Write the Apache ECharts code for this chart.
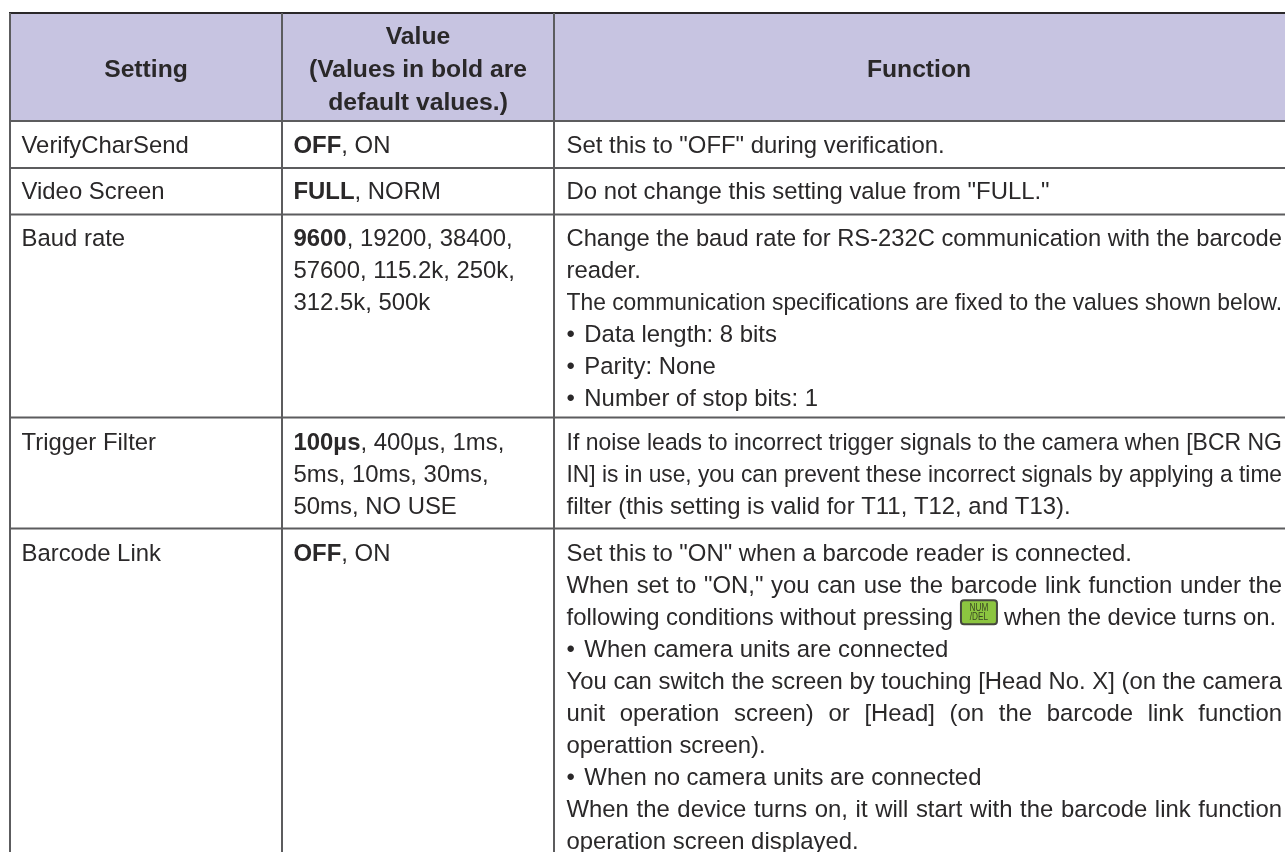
<!DOCTYPE html>
<html><head><meta charset="utf-8"><style>html,body{margin:0;padding:0;background:#fff}#c{width:1285px;height:852px}</style>
<script src="https://cdn.jsdelivr.net/npm/echarts@6/dist/echarts.min.js"></script></head>
<body><div id="c"></div>
<script>
const headers = ['Setting', ['Value', '(Values in bold are', 'default values.)'], 'Function'];
const settings = ['VerifyCharSend', 'Video Screen', 'Baud rate', 'Trigger Filter', 'Barcode Link'];
const valueBold = ['OFF', 'FULL', '9600', '100µs', 'OFF'];
const valueLines = [
  [', ON'],
  [', NORM'],
  [', 19200, 38400,', '57600, 115.2k, 250k,', '312.5k, 500k'],
  [', 400µs, 1ms,', '5ms, 10ms, 30ms,', '50ms, NO USE'],
  [', ON']
];
const functionLines = [
  ['Set this to "OFF" during verification.'],
  ['Do not change this setting value from "FULL."'],
  ['Change the baud rate for RS-232C communication with the barcode', 'reader.',
   'The communication specifications are fixed to the values shown below.',
   '• Data length: 8 bits', '• Parity: None', '• Number of stop bits: 1'],
  ['If noise leads to incorrect trigger signals to the camera when [BCR NG', 'IN] is in use, you can prevent these incorrect signals by applying a time', 'filter (this setting is valid for T11, T12, and T13).'],
  ['Set this to "ON" when a barcode reader is connected.',
   'When set to "ON," you can use the barcode link function under the',
   ['following conditions without pressing', 'when the device turns on.'],
   '• When camera units are connected',
   'You can switch the screen by touching [Head No. X] (on the camera',
   'unit operation screen) or [Head] (on the barcode link function',
   'operattion screen).',
   '• When no camera units are connected',
   'When the device turns on, it will start with the barcode link function',
   'operation screen displayed.']
];
const justified = [[], [], [0, 2], [0, 1], [1, 4, 5, 8]];
const keyCap = ['NUM', '/DEL'];

const FONT = '"Liberation Sans", Arial, sans-serif';
const SIZE = 23.9, HSIZE = 24.7, INK = '#2a2829', LINE = '#5c5c5e', HEAD = '#c7c4e1';
const colX = [10, 282, 554, 1285], rowY = [13, 121, 168, 214.5, 417.5, 528.5];
const pad = [11.5, 11.5, 12.5];
const firstLine = [146, 192.5, 239, 443, 554], PITCH = 32.1, RIGHT = 1282;
const BULLET_GAP = 9.5;
const ctx = document.createElement('canvas').getContext('2d');
const measure = (s, bold) => { ctx.font = (bold ? 'bold ' : '') + SIZE + 'px ' + FONT; return ctx.measureText(s).width; };
const g = [];
const plain = { font: SIZE + 'px ' + FONT, fill: INK };
const txt = (x, y, text, extra, el) => g.push(Object.assign({ type: 'text', x, y, z: 5, style: Object.assign({ text, font: SIZE + 'px ' + FONT, fill: INK, verticalAlign: 'middle', align: 'left' }, extra || {}) }, el || {}));
const line = (x1, y1, x2, y2, stroke, w) => g.push({ type: 'line', z: 3, shape: { x1, y1, x2, y2 }, style: { stroke: stroke || LINE, lineWidth: w || 2 } });

g.push({ type: 'rect', z: 1, shape: { x: colX[0], y: rowY[0], width: colX[3] - colX[0], height: rowY[1] - rowY[0] }, style: { fill: HEAD } });
rowY.slice(1).forEach(y => line(colX[0] - 1, y, 1285, y));
line(colX[0] - 1, rowY[0], 1285, rowY[0], '#2a2829');
colX.slice(0, 3).forEach(x => line(x, rowY[0], x, 852));

const bold = { font: 'bold ' + HSIZE + 'px ' + FONT, align: 'center' };
const hc = [(colX[0] + colX[1]) / 2, (colX[1] + colX[2]) / 2, 919];
txt(hc[0], 70, headers[0], bold);
headers[1].forEach((s, i) => txt(hc[1], 37 + i * 33, s, bold));
txt(hc[2], 70, headers[2], bold);

const fx = colX[2] + pad[2];
function justify(s, y) {
  const avail = RIGHT - fx, natural = measure(s);
  if (natural >= avail) { txt(fx, y, s, null, { scaleX: avail / natural }); return; }
  const words = s.split(' ');
  const sum = words.reduce((a, w) => a + measure(w), 0);
  const gap = (avail - sum) / (words.length - 1);
  txt(fx, y, words.map(w => '{n|' + w + '}').join('{g| }'), { rich: { n: plain, g: { font: plain.font, width: gap } } });
}
function bullet(s, y) {
  txt(fx, y, '{n|•}{g| }{n|' + s.slice(2) + '}', { rich: { n: plain, g: { font: plain.font, width: BULLET_GAP } } });
}
settings.forEach((name, r) => {
  const y0 = firstLine[r];
  txt(colX[0] + pad[0], y0, name);
  valueLines[r].forEach((s, i) => {
    if (i === 0) {
      txt(colX[1] + pad[1], y0, '{b|' + valueBold[r] + '}{n|' + s + '}', { rich: { b: { font: 'bold ' + SIZE + 'px ' + FONT, fill: INK }, n: plain } });
    } else txt(colX[1] + pad[1], y0 + i * PITCH, s);
  });
  functionLines[r].forEach((s, i) => {
    const y = y0 + i * PITCH;
    if (Array.isArray(s)) {
      const w = measure(s[0]), kw = 36, kh = 24, kx = fx + w + 8;
      txt(fx, y, s[0]);
      g.push({ type: 'rect', z: 6, shape: { x: kx, y: y - 18, width: kw, height: kh, r: 3 }, style: { fill: '#8cc540', stroke: '#46483f', lineWidth: 2 } });
      g.push({ type: 'text', x: kx + kw / 2, y: y - 10, z: 7, scaleX: 0.82, style: { text: keyCap[0], font: '10px ' + FONT, fill: '#3a4424', align: 'center', verticalAlign: 'middle' } });
      g.push({ type: 'text', x: kx + kw / 2, y: y - 1, z: 7, scaleX: 0.82, style: { text: keyCap[1], font: '10px ' + FONT, fill: '#3a4424', align: 'center', verticalAlign: 'middle' } });
      txt(kx + kw + 7, y, s[1]);
    } else if (justified[r].includes(i)) justify(s, y);
    else if (s.startsWith('• ')) bullet(s, y);
    else txt(fx, y, s);
  });
});
const chart = echarts.init(document.getElementById('c'), null, { renderer: 'canvas', width: 1285, height: 852 });
chart.setOption({ animation: false, backgroundColor: '#ffffff', graphic: { elements: g } });
</script></body></html>
